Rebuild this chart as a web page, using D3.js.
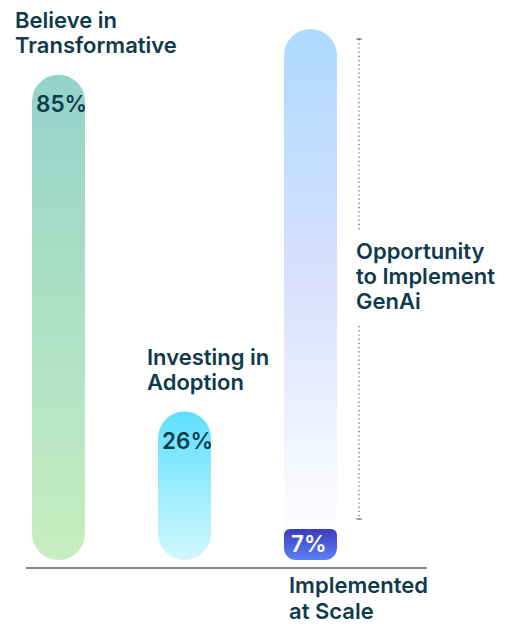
<!DOCTYPE html>
<html>
<head>
<meta charset="utf-8">
<script src="https://cdn.jsdelivr.net/npm/d3@7"></script>
<style>
  body { margin: 0; background: #fff; }
  text { font-family: Inter, "Noto Sans", sans-serif; font-weight: 600; fill: #0f3b4c; }
</style>
</head>
<body>
<div id="chart"></div>
<script>
// chart data
const categories = ['Believe in Transformative', 'Investing in Adoption', 'Implemented at Scale'];
const values = [85, 26, 7];
const labelLines = [['Believe in', 'Transformative'], ['Investing in', 'Adoption'], ['Implemented', 'at Scale']];
const opportunity = 93; // remaining share above "Implemented at Scale"
const opportunityLines = ['Opportunity', 'to Implement', 'GenAi'];

const width = 517;
const height = 624;
const barW = 53;

const svg = d3.select('#chart')
  .append('svg')
  .attr('width', width)
  .attr('height', height);

const x = d3.scalePoint().domain(categories).range([58.5, 310.5]);
const y = d3.scaleLinear().domain([0, 100]).range([560, -11]);

const defs = svg.append('defs');
function grad(id, stops) {
  const g = defs.append('linearGradient').attr('id', id)
    .attr('x1', 0).attr('y1', 0).attr('x2', 0).attr('y2', 1);
  stops.forEach(([o, c]) => g.append('stop').attr('offset', o).attr('stop-color', c));
}
grad('g0', [[0, '#94d3ca'], [1, '#c6eebf']]);
grad('g1', [[0, '#5ddfff'], [1, '#d2f7ff']]);
grad('g2', [[0, '#3b3cbd'], [1, '#5b82f2']]);
grad('gOpp', [[0, '#aed9ff'], [0.5, '#dae1fd'], [0.85, '#f7f8ff'], [1, '#ffffff']]);

// pill path: top radius rt, bottom radius rb
function pill(x0, y0, w, h, rt, rb) {
  return `M${x0},${y0 + rt}A${rt},${rt} 0 0 1 ${x0 + rt},${y0}` +
    `L${x0 + w - rt},${y0}A${rt},${rt} 0 0 1 ${x0 + w},${y0 + rt}` +
    `L${x0 + w},${y0 + h - rb}A${rb},${rb} 0 0 1 ${x0 + w - rb},${y0 + h}` +
    `L${x0 + rb},${y0 + h}A${rb},${rb} 0 0 1 ${x0},${y0 + h - rb}Z`;
}

// opportunity bar (fades behind the 7% block)
const xo = x(categories[2]) - barW / 2;
svg.append('path')
  .attr('d', pill(xo, y(opportunity), barW, y(0) - y(opportunity), barW / 2, 0))
  .attr('fill', 'url(#gOpp)');

// bars
svg.append('g').selectAll('path')
  .data(values)
  .join('path')
  .attr('d', (d, i) => {
    const x0 = x(categories[i]) - barW / 2;
    if (i === 2) {
      const h = y(0) - y(d) - 9;
      return pill(x0, y(0) - h, barW, h, 6, 12);
    }
    return pill(x0, y(d), barW, y(0) - y(d), barW / 2, barW / 2);
  })
  .attr('fill', (d, i) => `url(#g${i})`);

// value labels
svg.append('g').selectAll('text')
  .data(values)
  .join('text')
  .attr('x', (d, i) => x(categories[i]) - barW / 2 + (i === 2 ? 7 : 4))
  .attr('y', (d, i) => i === 2 ? 552 : y(d) + 37)
  .attr('font-size', 22.5)
  .style('fill', (d, i) => i === 2 ? '#fff' : null)
  .text((d) => d + '%');

// category labels
const labelDx = [-43.5, -37.5, -21.5];
labelLines.forEach((lines, i) => {
  const t = svg.append('text').attr('font-size', 22);
  lines.forEach((l, j) => {
    let yy;
    if (i === 2) yy = 593 + j * 26;
    else yy = y(values[i]) - 22 - (lines.length - 1 - j) * 25;
    t.append('tspan').attr('x', x(categories[i]) + labelDx[i]).attr('y', yy).text(l);
  });
});

// baseline
svg.append('line')
  .attr('x1', 26).attr('x2', 427)
  .attr('y1', 568).attr('y2', 568)
  .attr('stroke', '#7f8b93').attr('stroke-width', 2);

// dotted bracket for opportunity
const bx = 359;
const bTop = 39, bBot = 519;
const gap = [232, 326];
const bracket = svg.append('g').attr('stroke', '#4b5b64');
[[bTop, gap[0]], [gap[1], bBot]].forEach(([a, b]) => {
  bracket.append('line').attr('x1', bx).attr('x2', bx).attr('y1', a).attr('y2', b)
    .attr('stroke-width', 1.2).attr('stroke-dasharray', '1.2,3');
});
[bTop, bBot].forEach((v) => {
  bracket.append('line').attr('x1', bx - 2.5).attr('x2', bx + 2.5).attr('y1', v).attr('y2', v)
    .attr('stroke-width', 1.2);
});

// opportunity label
const ot = svg.append('text').attr('font-size', 22);
opportunityLines.forEach((l, j) => {
  ot.append('tspan').attr('x', 356).attr('y', 259 + j * 25).text(l);
});
</script>
</body>
</html>
